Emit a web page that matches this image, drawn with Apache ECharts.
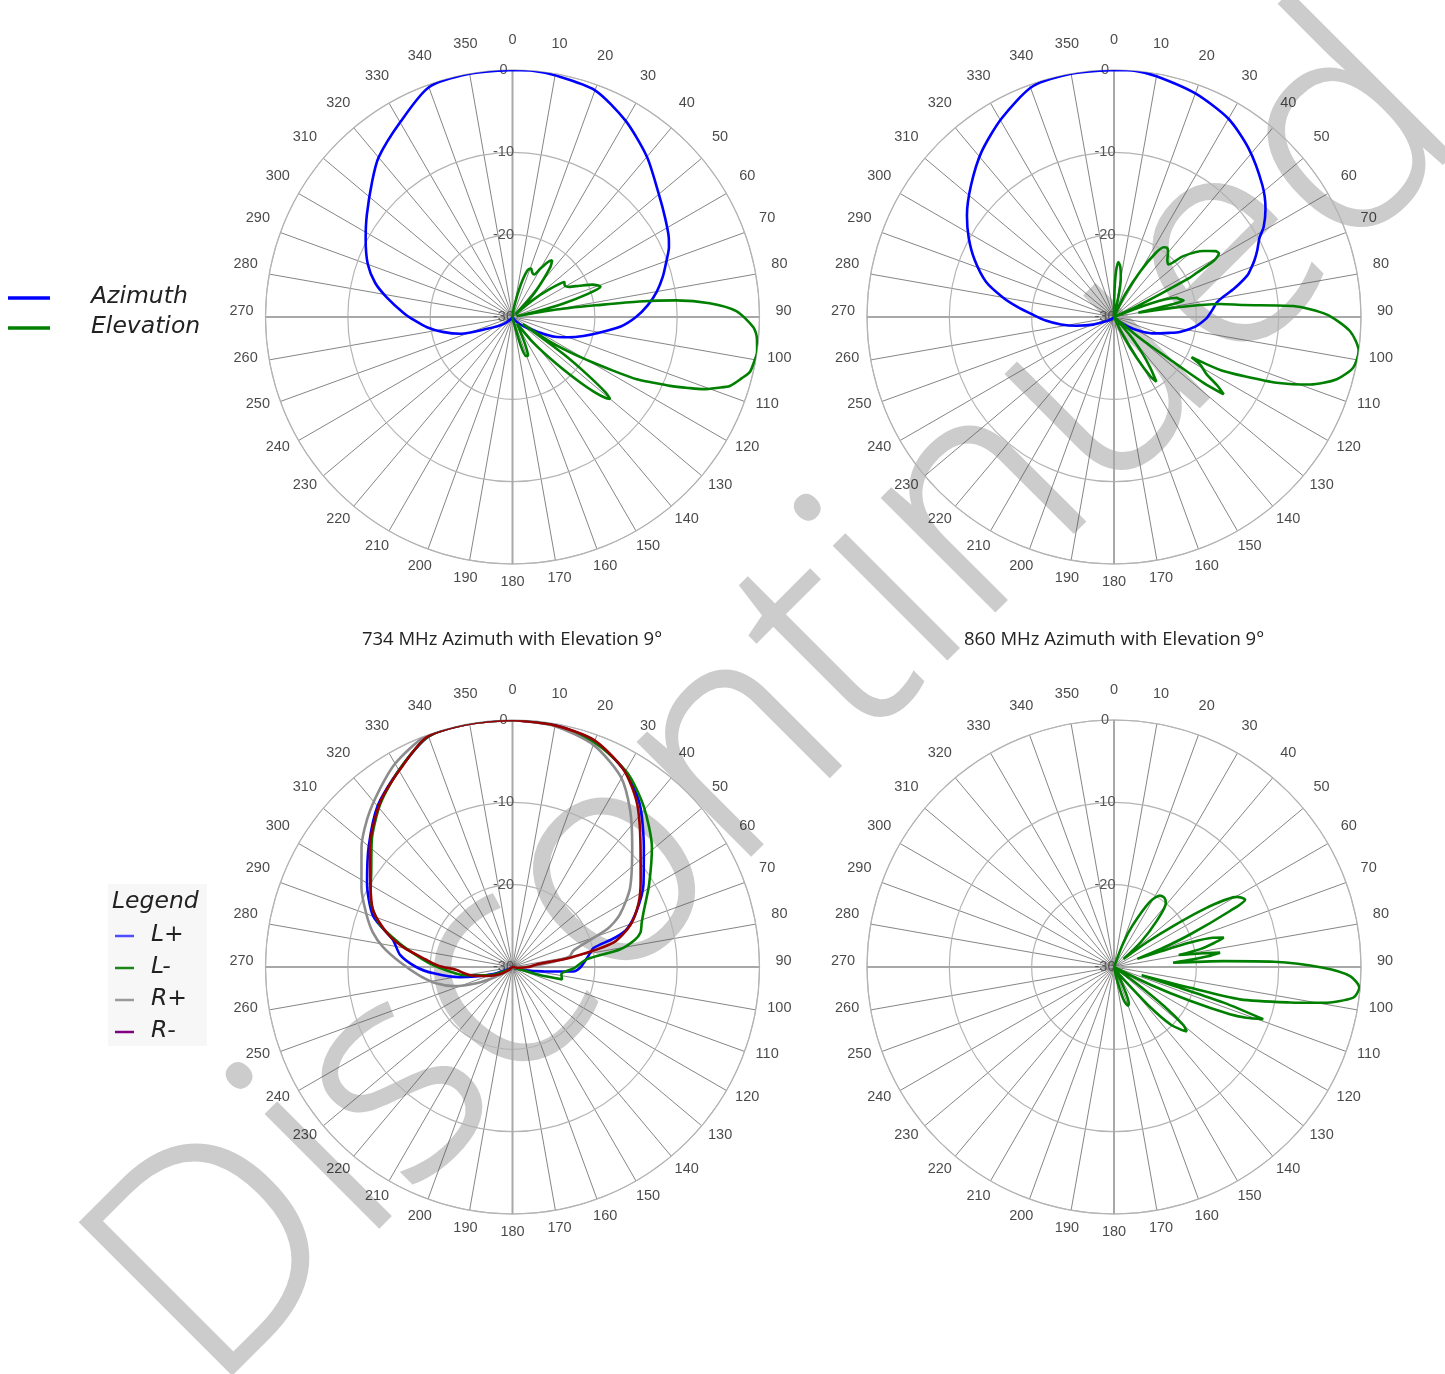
<!DOCTYPE html>
<html>
<head>
<meta charset="utf-8">
<script src="https://cdn.jsdelivr.net/npm/echarts@6/dist/echarts.min.js"></script>
<style>
html,body{margin:0;padding:0;background:#fff}
#chart{width:1445px;height:1374px}
</style>
</head>
<body>
<div id="chart"></div>
<script>
// Radiation patterns, stored as [angle in degrees, level in dB] pairs.
// Angles run clockwise from the top; -30 dB sits at the centre.

// 734 MHz, azimuth cut
const az734 = [[0,0],[5,0],[10,-0.2],[20,-0.7],[30,-2.5],[40,-4.6],[50,-6.8],[57,-7.9],[63,-8.7],[66,-9.2],[70,-10.1],[75,-11.1],[80,-12.2],[85,-13.5],[90,-15],[95,-16.8],[100,-19.2],[105,-21.1],[110,-22.8],[115,-24.3],[121,-26.6],[130,-28.3],[145,-29.5],[180,-30],[215,-29.7],[232,-28.6],[245,-26.6],[252,-23.4],[258,-21.3],[263,-19.6],[268,-18.1],[272,-16.8],[279,-14.5],[284,-12.8],[290,-11.3],[298,-9.8],[305,-8.4],[314,-6.3],[320,-4.7],[330,-2.7],[340,-0.3],[350,0],[360,0]];

// 734 MHz, elevation cut
const el734 = [[0,-30],[8,-29],[12,-27.5],[15,-25.5],[18,-24],[21,-23.7],[24,-24.1],[27,-24.2],[30,-23.2],[33,-22],[35,-21.6],[37,-22.3],[40,-24.5],[43,-26.5],[47,-29.5],[50,-27],[53,-24.5],[56,-22.4],[59,-22.6],[62,-22.2],[65,-21],[68,-19.5],[71,-18.7],[73,-20.5],[75,-23.5],[77,-27],[78.5,-29.5],[80,-26],[81,-23],[82,-19.8],[83,-14.5],[84.2,-10],[86,-6],[88.5,-2.8],[92.5,-0.7],[95,-0.2],[98,0],[101,-0.2],[103,-0.4],[105,-1.2],[107.6,-2.3],[109,-3.6],[110.7,-5.2],[112,-7],[113.6,-9.1],[115,-11.1],[116.6,-13.1],[118,-16],[119.5,-18.7],[121,-21],[123,-24],[124.5,-28.5],[126,-22.5],[127.5,-18.8],[129,-15.5],[130,-14.5],[131,-15],[132.5,-16.5],[134,-18.5],[137,-22.5],[141,-26],[146,-29],[152,-28],[155,-26.5],[158,-25],[161,-25],[164,-26.5],[168,-29.5],[175,-30],[360,-30]];

// 860 MHz, azimuth cut
const az860 = [[0,0],[5,0],[10,-0.3],[20,-1.1],[30,-2.2],[38.6,-3.8],[48.4,-5.9],[54.5,-7.4],[59,-8.8],[61.5,-9.9],[65,-10.8],[68,-11.6],[70,-12.2],[72.6,-13],[76.7,-15],[79.5,-16.5],[82,-17.4],[85,-17.9],[88.4,-18.4],[91,-18.8],[96.5,-20],[102.8,-21.8],[106,-23],[113,-24.9],[118,-26.3],[125,-28],[140,-29.5],[180,-30],[230,-29.6],[240,-29],[250,-27.3],[257,-25.3],[262,-23.5],[267,-21.7],[272,-20],[276,-18.2],[280,-16.3],[285.3,-13.9],[292.3,-11.7],[298.6,-9.9],[304.6,-8.3],[312.6,-6.4],[321.2,-4.3],[330.4,-2.3],[340.5,-0.3],[350,0],[360,0]];

// 860 MHz, elevation cut
const el860 = [[0,-30],[1,-27],[2.5,-24.5],[4.5,-23.3],[7,-23.8],[9.5,-25],[12,-27],[14,-30],[22,-30],[26,-27],[30,-23.5],[33,-20.8],[35.5,-19.6],[37.5,-19.4],[40,-19.8],[43,-20.5],[46,-20.8],[48.7,-18.8],[53.6,-16.5],[57,-15.3],[58.8,-15.1],[60.6,-16.1],[61.9,-18.6],[62.7,-19.8],[63.7,-23.8],[65,-27],[66.5,-30],[69,-27],[71,-23.5],[73,-22],[74.5,-21.8],[76.6,-21.3],[77.8,-23],[79,-26],[80,-27],[81,-23.5],[81.7,-20.7],[83,-17],[84.7,-14.2],[86.5,-8.2],[89.3,-4.2],[93.4,-1.3],[97.9,0],[101.9,-0.3],[105.6,-1.9],[109,-4.8],[112,-8.7],[114.5,-12.7],[116.5,-15.5],[117.4,-19.4],[119,-18],[121.7,-16.8],[123.5,-15],[125.2,-13.7],[126.3,-16.5],[127,-20.5],[129,-25.4],[133,-30],[139,-27],[142,-24.5],[144.5,-22.4],[146.8,-20.6],[148.5,-21.5],[150.9,-24.3],[154,-27.5],[158,-30],[360,-30]];

// Port patterns: L+, L-, R+, R-
const portLPlus = [[0,0],[10,-0.2],[20,-0.8],[30,-2.6],[38,-4.9],[47.6,-8.4],[57.8,-11.2],[65.5,-13.4],[71.5,-15.3],[74,-17],[76.8,-19.9],[79.7,-20.4],[84,-21],[90.6,-21.8],[94.2,-22.6],[98,-26.2],[105,-28.5],[120,-29.8],[180,-30],[240,-29.5],[250,-27.5],[259,-23.5],[265.4,-20.4],[270,-18.3],[276,-16.3],[282.8,-15.1],[290,-12],[300,-9.6],[310,-7.2],[320,-4.5],[330,-2.4],[340,-0.2],[350,0],[360,0]];
const portLMinus = [[0,0],[10,-0.2],[20.9,-1.1],[30.6,-2.6],[39.2,-4.8],[49.4,-7.7],[58.8,-10.6],[66.6,-12.6],[71,-13.4],[74.9,-13.9],[77.5,-14.8],[80.7,-16.8],[84,-20.9],[91,-22.5],[98,-24],[104,-23.8],[106,-26],[108,-29],[115,-29.7],[180,-30],[235,-29.5],[248,-27.5],[257,-25.5],[262,-23.5],[267,-22],[271,-20.5],[275,-19],[281.8,-16],[288,-13],[296,-10.8],[303.6,-9.4],[312,-7],[321,-4.5],[330,-2.4],[340,-0.2],[350,0],[360,0]];
const portRPlus = [[0,0],[10,-0.3],[20.1,-1.3],[29.6,-3.4],[36.9,-6.2],[44.9,-9.4],[56.1,-12.8],[64,-15.5],[68,-17.5],[74.8,-22.3],[79.7,-23],[84.6,-26.2],[90,-28.5],[100,-29.5],[180,-30],[225,-29.5],[240,-27.5],[245.8,-25.2],[252,-22.5],[258,-20.5],[264.5,-18.7],[272.5,-16.3],[278.7,-14.1],[284,-12.5],[290,-11.1],[297.6,-9.3],[308.4,-6.6],[317.7,-4.3],[329.4,-1.6],[339.7,0],[350,0],[360,0]];
const portRMinus = [[0,0],[10,-0.2],[19.7,-0.7],[29.4,-2.5],[37.2,-5],[46.9,-8.7],[55.9,-11.2],[63,-12.8],[70.4,-14.8],[76.4,-17.4],[80.8,-22.9],[83.6,-27],[90,-28],[100,-29.5],[180,-30],[230,-29.5],[240,-28.3],[250,-26.8],[258,-25],[263,-24],[267,-23.2],[271,-21],[275,-19.4],[280.3,-16.5],[285.4,-14.1],[292.2,-11.7],[301.2,-9.8],[310,-7.4],[321,-4.4],[330.3,-2.4],[339.6,-0.2],[350,0],[360,0]];

// Elevation cut, fourth panel
const elPanel4 = [[0,-30],[18,-30],[21,-27],[24,-24.5],[28.7,-21],[32.7,-19.7],[36,-19.6],[39,-20],[42.9,-22.4],[47,-25.5],[50,-28.5],[53,-25],[55.3,-21.2],[57.4,-16.6],[60.3,-12.8],[62.8,-12.1],[64.2,-14.3],[66.8,-19.9],[69,-24],[70.7,-27],[71.5,-24],[72.2,-20.3],[73.5,-17.5],[75,-16.2],[76.5,-17.5],[78.3,-19.3],[79.5,-22],[80.3,-21],[81.3,-19],[82.3,-17],[83.5,-18.5],[84.5,-20.5],[85.8,-22.8],[86.9,-16.7],[88.1,-10.6],[90.2,-4.6],[92.2,-1.3],[94.8,-0.1],[97.3,-0.7],[99.7,-4.2],[101.4,-8.2],[104.4,-14.2],[105.3,-20.4],[106.5,-26.5],[107.5,-22],[108,-16],[109.3,-10.8],[111,-12.8],[112.2,-14.8],[114,-19.9],[116,-25],[120,-30],[126,-27],[128,-22.3],[130,-19],[131.5,-18.2],[133,-18.8],[135.5,-20.2],[138,-23.5],[142,-28],[150,-29.5],[155,-27],[158,-25.2],[160,-25],[162,-25.3],[164,-26],[167,-28.5],[175,-30],[360,-30]];

// Angle tick labels around each panel
const angleTicks = [0,10,20,30,40,50,60,70,80,90,100,110,120,130,140,150,160,170,180,190,200,210,220,230,240,250,260,270,280,290,300,310,320,330,340,350];

const panelTitles = ['734 MHz Azimuth with Elevation 9°', '860 MHz Azimuth with Elevation 9°'];
const topLegendNames = ['Azimuth', 'Elevation'];
const portNames = ['L+', 'L-', 'R+', 'R-'];
const watermarkText = 'Discontinued';

const BLUE = '#0000ff', GREEN = '#007f00', GRAY = '#8c8c8c', DARKRED = '#990000';
const portLegendColors = ['#4d4dff', '#1a851a', '#9a9a9a', '#800080'];

const R = 247;
const LABEL_R = 271;
const panels = [
  { center: [512.5, 317], series: [[az734, BLUE], [el734, GREEN]] },
  { center: [1114, 317], series: [[az860, BLUE], [el860, GREEN]] },
  { center: [512.5, 967], series: [[portLPlus, BLUE], [portLMinus, GREEN], [portRPlus, GRAY], [portRMinus, DARKRED]] },
  { center: [1114, 967], series: [[elPanel4, GREEN]] }
];

const polar = [], angleAxis = [], radiusAxis = [], series = [];
const tickFont = 'Liberation Sans, Arial, sans-serif';
panels.forEach((p, i) => {
  const base = 3 * i;
  // main grid: 10° spokes, rings every 10 dB
  polar.push({ center: p.center, radius: R });
  angleAxis.push({
    polarIndex: base, type: 'value', min: 0, max: 360, interval: 10,
    startAngle: 90, clockwise: true,
    axisLine: { show: true, lineStyle: { color: '#b4b4b4', width: 1 } },
    axisTick: { show: false },
    axisLabel: { show: false },
    splitLine: { show: true, lineStyle: { color: '#505050', width: 0.7 } }
  });
  radiusAxis.push({
    polarIndex: base, type: 'value', min: -30, max: 0, interval: 10,
    axisLine: { show: false }, axisTick: { show: false },
    axisLabel: {
      show: true, margin: -2,
      formatter: v => '{c|' + v + '}',
      rich: { c: { width: 22, align: 'center', fontFamily: tickFont, fontSize: 14.5, color: '#555' } }
    },
    splitLine: { show: true, lineStyle: { color: '#b4b4b4', width: 1.2 } },
    z: 1
  });
  // overlay grid: heavier lines through 0/90/180/270
  polar.push({ center: p.center, radius: R });
  angleAxis.push({
    polarIndex: base + 1, type: 'value', min: 0, max: 360, interval: 90,
    startAngle: 90, clockwise: true,
    axisLine: { show: false }, axisTick: { show: false }, axisLabel: { show: false },
    splitLine: { show: true, lineStyle: { color: '#a8a8a8', width: 2 } },
    z: 1
  });
  radiusAxis.push({ polarIndex: base + 1, type: 'value', min: -30, max: 0, show: false, splitLine: { show: false } });
  // label ring: angle labels are centred on a ring sitting slightly above the plot centre
  polar.push({ center: [p.center[0], p.center[1] - 6], radius: LABEL_R });
  angleAxis.push({
    polarIndex: base + 2, type: 'value', min: 0, max: 360, startAngle: 90, clockwise: true,
    axisLine: { show: false }, axisTick: { show: false }, axisLabel: { show: false }, splitLine: { show: false }
  });
  radiusAxis.push({
    polarIndex: base + 2, type: 'value', min: -30, max: 0,
    axisLine: { show: false }, axisTick: { show: false }, axisLabel: { show: false }, splitLine: { show: false }
  });
  series.push({
    type: 'scatter', coordinateSystem: 'polar', polarIndex: base + 2,
    data: angleTicks.map(a => [0, a]),
    symbol: 'circle', symbolSize: 2, itemStyle: { color: 'rgba(255,255,255,0)' }, silent: true, clip: false, z: 4,
    label: { show: true, position: 'inside', formatter: q => String(q.value[1]), fontFamily: tickFont, fontSize: 14.5, color: '#1a1a1a' },
    emphasis: { disabled: true },
    animation: false
  });
  p.series.forEach(([pts, color]) => {
    series.push({
      type: 'line', coordinateSystem: 'polar', polarIndex: base,
      data: pts.map(([a, db]) => [db, a]),
      symbol: 'none', smooth: 0.25, z: 3,
      lineStyle: { color: color, width: 2.6 },
      animation: false
    });
  });
});

const graphic = [];
// watermark, behind everything else
graphic.push({
  type: 'text', x: 780, y: 705, rotation: Math.PI / 4, z: -5,
  style: { text: watermarkText, font: '300 300px "Open Sans", sans-serif', fill: '#cccccc', stroke: '#cccccc', lineWidth: 3, align: 'center', verticalAlign: 'middle' }
});
// panel titles
panelTitles.forEach((t, i) => {
  graphic.push({
    type: 'text', x: [512, 1114][i], y: 640,
    style: { text: t, font: '18.5px "Open Sans", sans-serif', fill: '#222', align: 'center', verticalAlign: 'middle' }
  });
});
const legendFont = 'italic 23.5px "DejaVu Sans", sans-serif';
// legend for the two upper panels
topLegendNames.forEach((n, i) => {
  const y = 298 + i * 30;
  graphic.push({ type: 'line', shape: { x1: 8, y1: y, x2: 50, y2: y }, style: { stroke: [BLUE, GREEN][i], lineWidth: 3.5 } });
  graphic.push({ type: 'text', x: 91, y: y - 1, style: { text: n, font: legendFont, fill: '#222', align: 'left', verticalAlign: 'middle' } });
});
// legend for the port panel
graphic.push({ type: 'rect', shape: { x: 108, y: 884, width: 99, height: 162 }, style: { fill: '#f7f7f7' }, z: -1 });
graphic.push({ type: 'text', x: 112, y: 902, style: { text: 'Legend', font: legendFont, fill: '#222', align: 'left', verticalAlign: 'middle' } });
portNames.forEach((n, i) => {
  const y = 936 + i * 32;
  graphic.push({ type: 'line', shape: { x1: 115, y1: y, x2: 134, y2: y }, style: { stroke: portLegendColors[i], lineWidth: 2.5 } });
  graphic.push({ type: 'text', x: 151, y: y - 1, style: { text: n, font: legendFont, fill: '#222', align: 'left', verticalAlign: 'middle' } });
});

const chart = echarts.init(document.getElementById('chart'), null, { renderer: 'canvas' });
chart.setOption({
  backgroundColor: '#ffffff',
  animation: false,
  polar, angleAxis, radiusAxis, series, graphic
});
</script>
</body>
</html>
